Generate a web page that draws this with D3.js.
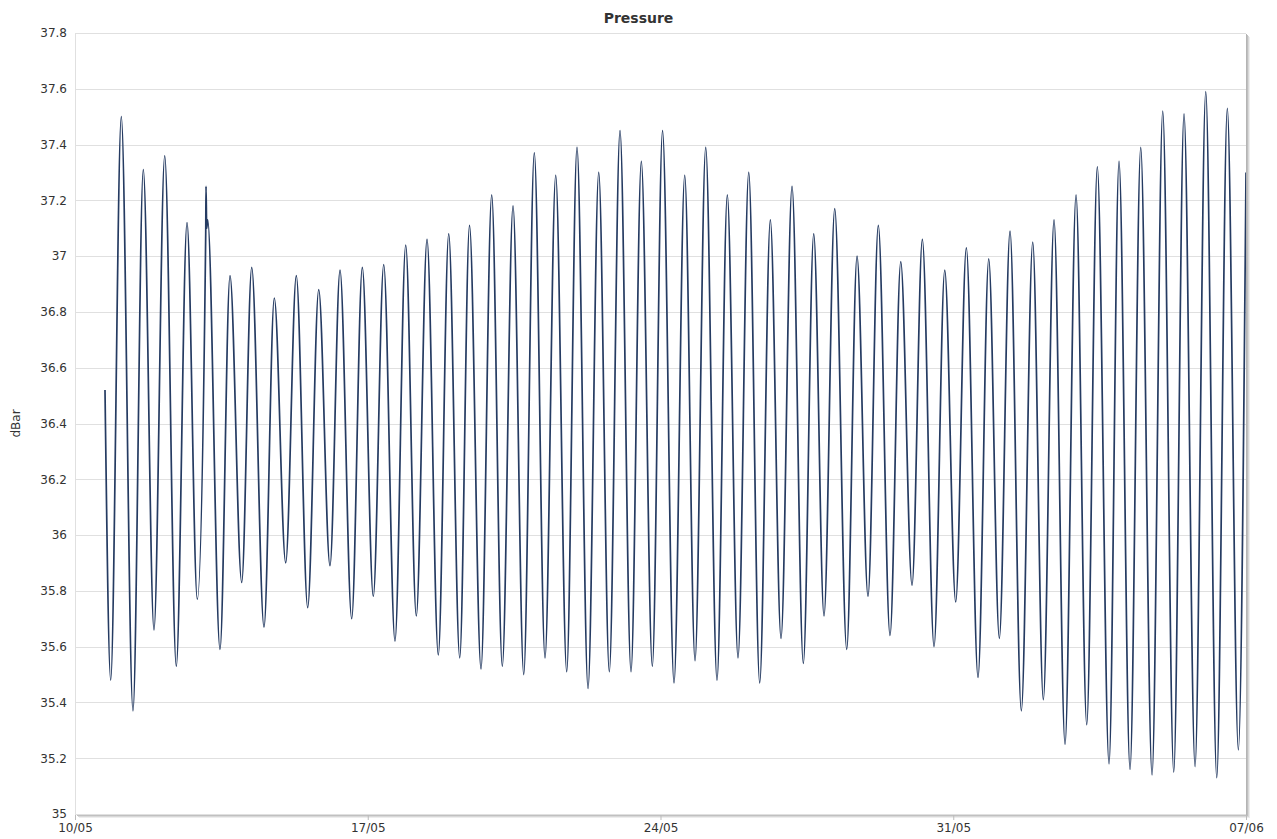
<!DOCTYPE html>
<html>
<head>
<meta charset="utf-8">
<script src="https://cdn.jsdelivr.net/npm/d3@7"></script>
<style>
  html, body { margin: 0; background: #fff; }
  svg { display: block; }
</style>
</head>
<body>
<svg id="chart"></svg>
<script>
/* ── Chart data ── */
const TITLE   = 'Pressure';
const Y_LABEL = 'dBar';

const Y_TICKS  = [35, 35.2, 35.4, 35.6, 35.8, 36, 36.2, 36.4, 36.6, 36.8, 37, 37.2, 37.4, 37.6, 37.8];
const X_DOMAIN = ['2014-05-10 00:00', '2014-06-07 00:00'];
const X_TICKS  = ['2014-05-10 00:00', '2014-05-17 00:00', '2014-05-24 00:00', '2014-05-31 00:00', '2014-06-07 00:00'];

// tide extrema (time stamps)
const TIMES = [
  '05-10 17:13', '05-10 20:29', '05-11 02:34', '05-11 09:17', '05-11 15:12', '05-11 21:20',
  '05-12 03:29', '05-12 10:08', '05-12 16:17', '05-12 22:11', '05-13 03:01', '05-13 03:11',
  '05-13 03:35', '05-13 04:09', '05-13 11:13', '05-13 16:57', '05-13 23:40', '05-14 05:25',
  '05-14 12:28', '05-14 18:23', '05-15 00:55', '05-15 07:00', '05-15 13:32', '05-15 19:52',
  '05-16 02:20', '05-16 08:05', '05-16 14:47', '05-16 20:53', '05-17 03:11', '05-17 09:10',
  '05-17 15:38', '05-17 21:47', '05-18 03:52', '05-18 10:01', '05-18 16:29', '05-18 22:28',
  '05-19 04:47', '05-19 10:24', '05-19 17:00', '05-19 23:08', '05-20 05:13', '05-20 11:22',
  '05-20 17:31', '05-20 23:35', '05-21 05:44', '05-21 11:52', '05-21 18:11', '05-22 00:05',
  '05-22 06:25', '05-22 12:33', '05-22 18:38', '05-23 00:46', '05-23 07:05', '05-23 13:00',
  '05-23 19:19', '05-24 01:10', '05-24 07:46', '05-24 13:54', '05-24 19:49', '05-25 01:57',
  '05-25 08:26', '05-25 14:21', '05-25 20:29', '05-26 02:38', '05-26 08:56', '05-26 15:02',
  '05-26 21:10', '05-27 03:29', '05-27 09:58', '05-27 15:56', '05-27 21:50', '05-28 03:59',
  '05-28 10:52', '05-28 16:47', '05-28 23:05', '05-29 05:00', '05-29 11:43', '05-29 17:52',
  '05-30 00:21', '05-30 06:16', '05-30 12:59', '05-30 19:07', '05-31 01:25', '05-31 07:31',
  '05-31 14:13', '05-31 20:22', '06-01 02:27', '06-01 08:35', '06-01 15:04', '06-01 21:37',
  '06-02 03:42', '06-02 09:50', '06-02 16:09', '06-02 22:28', '06-03 04:36', '06-03 10:41',
  '06-03 17:24', '06-03 23:08', '06-04 05:27', '06-04 11:35', '06-04 18:05', '06-05 00:13',
  '06-05 06:32', '06-05 12:26', '06-05 18:46', '06-06 00:54', '06-06 07:13', '06-06 13:17',
  '06-06 19:37', '06-07 00:00'
];

// pressure at those times (dBar)
const VALUES = [
  36.52, 35.48, 37.50, 35.37, 37.31, 35.66,
  37.36, 35.53, 37.12, 35.77, 37.08, 37.25,
  37.10, 37.13, 35.59, 36.93, 35.83, 36.96,
  35.67, 36.85, 35.90, 36.93, 35.74, 36.88,
  35.89, 36.95, 35.70, 36.96, 35.78, 36.97,
  35.62, 37.04, 35.71, 37.06, 35.57, 37.08,
  35.56, 37.11, 35.52, 37.22, 35.53, 37.18,
  35.50, 37.37, 35.56, 37.29, 35.51, 37.39,
  35.45, 37.30, 35.51, 37.45, 35.51, 37.34,
  35.53, 37.45, 35.47, 37.29, 35.55, 37.39,
  35.48, 37.22, 35.56, 37.30, 35.47, 37.13,
  35.63, 37.25, 35.54, 37.08, 35.71, 37.17,
  35.59, 37.00, 35.78, 37.11, 35.64, 36.98,
  35.82, 37.06, 35.60, 36.95, 35.76, 37.03,
  35.49, 36.99, 35.63, 37.09, 35.37, 37.05,
  35.41, 37.13, 35.25, 37.22, 35.32, 37.32,
  35.18, 37.34, 35.16, 37.39, 35.14, 37.52,
  35.15, 37.51, 35.17, 37.59, 35.13, 37.53,
  35.23, 37.30
];

/* ── Layout ── */
const W = 1277, H = 839;
const plot = { left: 75, top: 33, right: 1246, bottom: 814 };
const FONT = 'Verdana, "DejaVu Sans", sans-serif';

const parse = d3.timeParse('%Y-%m-%d %H:%M');
const data  = TIMES.map((t, i) => ({ date: parse('2014-' + t), value: VALUES[i] }));

const svg = d3.select('#chart')
  .attr('width', W)
  .attr('height', H)
  .attr('viewBox', `0 0 ${W} ${H}`);

const x = d3.scaleTime()
  .domain(X_DOMAIN.map(parse))
  .range([plot.left, plot.right]);

const y = d3.scaleLinear()
  .domain([35, 37.8])
  .range([plot.bottom, plot.top]);

/* ── Plot frame shadow (right + bottom) ── */
const shadow = svg.append('g');
[['#ededed', 4], ['#d8d8d8', 3], ['#c0c0c0', 2], ['#b4b4b4', 1]].forEach(([c, o]) => {
  shadow.append('rect')
    .attr('x', plot.left + o)
    .attr('y', plot.top + o)
    .attr('width', plot.right - plot.left)
    .attr('height', plot.bottom - plot.top)
    .attr('fill', c);
});
svg.append('rect')
  .attr('x', plot.left)
  .attr('y', plot.top)
  .attr('width', plot.right - plot.left)
  .attr('height', plot.bottom - plot.top)
  .attr('fill', '#fff');

/* ── Horizontal grid ── */
svg.append('g')
  .selectAll('line')
  .data(Y_TICKS)
  .join('line')
  .attr('x1', plot.left)
  .attr('x2', plot.right)
  .attr('y1', d => Math.round(y(d)) + 0.5)
  .attr('y2', d => Math.round(y(d)) + 0.5)
  .attr('stroke', '#e0e0e0')
  .attr('stroke-width', 1);

/* ── Y axis ── */
svg.append('g')
  .attr('transform', `translate(${plot.left},0)`)
  .call(d3.axisLeft(y).tickValues(Y_TICKS).tickFormat(d => d).tickSize(0).tickPadding(8))
  .call(ax => ax.select('.domain').attr('stroke', '#e0e0e0'))
  .call(ax => ax.selectAll('.tick text')
    .attr('fill', '#333')
    .attr('font-size', 12)
    .attr('font-family', FONT));

/* ── X axis ── */
svg.append('g')
  .attr('transform', `translate(0,${plot.bottom + 1})`)
  .call(d3.axisBottom(x)
    .tickValues(X_TICKS.map(parse))
    .tickFormat(d3.timeFormat('%d/%m'))
    .tickSize(5)
    .tickSizeOuter(0)
    .tickPadding(3))
  .call(ax => ax.select('.domain').remove())
  .call(ax => ax.selectAll('.tick line').attr('stroke', '#bbb'))
  .call(ax => ax.selectAll('.tick text')
    .attr('fill', '#333')
    .attr('font-size', 12)
    .attr('font-family', FONT));

/* ── Series line ── */
svg.append('clipPath')
  .attr('id', 'plot-clip')
  .append('rect')
  .attr('x', plot.left)
  .attr('y', plot.top)
  .attr('width', plot.right - plot.left)
  .attr('height', plot.bottom - plot.top);

const line = d3.line()
  .x(d => x(d.date))
  .y(d => y(d.value))
  .curve(d3.curveMonotoneX);

svg.append('path')
  .datum(data)
  .attr('clip-path', 'url(#plot-clip)')
  .attr('d', line)
  .attr('fill', 'none')
  .attr('stroke', '#253b62')
  .attr('stroke-width', 1.7)
  .attr('stroke-linejoin', 'round');

/* ── Title + axis label ── */
svg.append('text')
  .attr('x', W / 2)
  .attr('y', 23)
  .attr('text-anchor', 'middle')
  .attr('font-family', FONT)
  .attr('font-size', 14)
  .attr('font-weight', 'bold')
  .attr('fill', '#333')
  .text(TITLE);

svg.append('text')
  .attr('transform', `translate(20,${(plot.top + plot.bottom) / 2}) rotate(-90)`)
  .attr('text-anchor', 'middle')
  .attr('font-family', FONT)
  .attr('font-size', 12)
  .attr('fill', '#333')
  .text(Y_LABEL);
</script>
</body>
</html>
